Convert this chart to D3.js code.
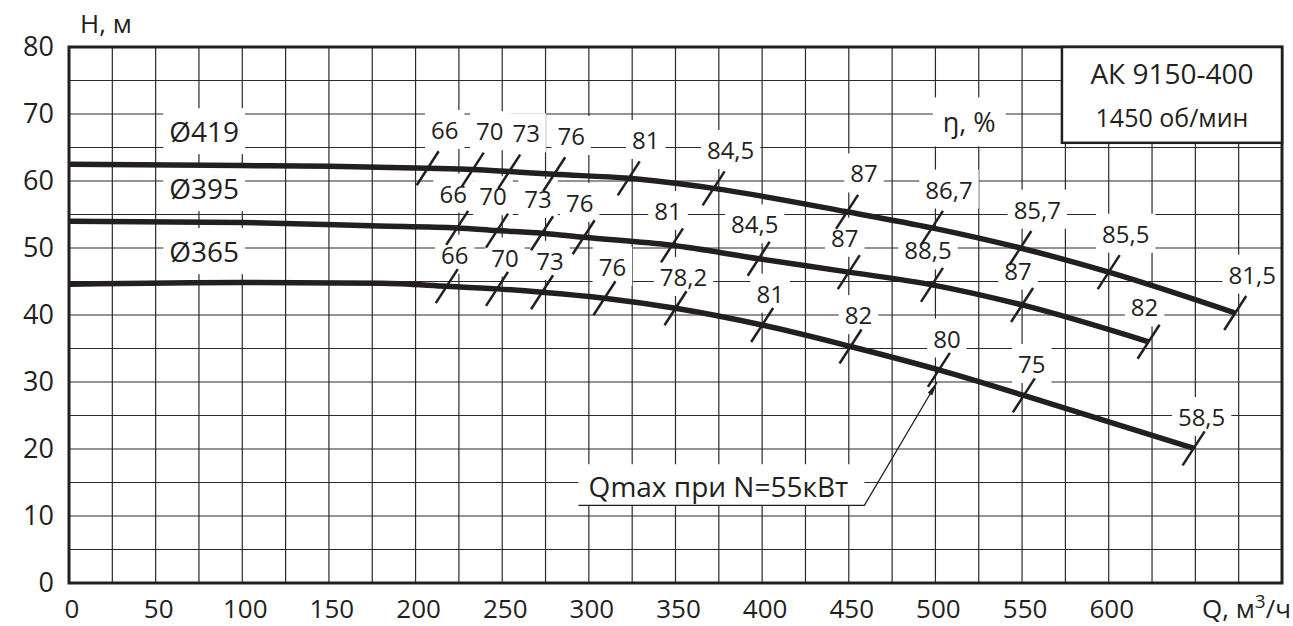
<!DOCTYPE html>
<html><head><meta charset="utf-8">
<script src="https://cdn.jsdelivr.net/npm/d3@7"></script>
<style>
html,body{margin:0;padding:0;background:#fff;}
svg{display:block;font-family:"Open Sans","Noto Sans",sans-serif;}
</style></head>
<body>
<svg id="chart" width="1293" height="626"></svg>
<script>
// ---- data ----
const xTicks = [0,50,100,150,200,250,300,350,400,450,500,550,600];
const yTicks = [0,10,20,30,40,50,60,70,80];
const curveNames = ["Ø419","Ø395","Ø365"];
// leading points of each head curve (Q, H)
const head419 = [[0,62.5],[100,62.3],[150,62.2]];
const head395 = [[0,54.0],[100,53.8],[179,53.3]];
const head365 = [[0,44.6],[100,44.85],[180,44.75]];
// efficiency marks on each curve: Q, H, η label
const marks419 = [[207,61.9,"66"],[233,61.7,"70"],[254,61.4,"73"],[280,61.0,"76"],[323,60.4,"81"],[372,58.9,"84,5"],[449,55.4,"87"],[498,53.0,"86,7"],[549,50.0,"85,7"],[600,46.4,"85,5"],[673,40.3,"81,5"]];
const marks395 = [[224,53.0,"66"],[247,52.6,"70"],[273,52.2,"73"],[297,51.6,"76"],[348,50.4,"81"],[398,48.4,"84,5"],[450,46.4,"87"],[498,44.5,"88,5"],[550,41.5,"87"],[623,36.0,"82"]];
const marks365 = [[218,44.3,"66"],[247,43.9,"70"],[273,43.4,"73"],[309,42.5,"76"],[350,41.0,"78,2"],[400,38.5,"81"],[451,35.3,"82"],[502,31.8,"80"],[551,28.0,"75"],[649,20.1,"58,5"]];
const boxLines = ["АК 9150-400","1450 об/мин"];
const qmaxText = "Qmax при N=55кВт";
const qmaxTarget = [501,30.0];

// ---- layout ----
const svg = d3.select("#chart");
const x = d3.scaleLinear().domain([0,700]).range([69,1282]);
const y = d3.scaleLinear().domain([0,80]).range([583,47]);
const ink = "#231f20";

const gGrid = svg.append("g");
const gBg = svg.append("g");
const gLines = svg.append("g");
const gText = svg.append("g");

// grid
gGrid.selectAll("line.v").data(d3.range(25,700,25)).join("line")
  .attr("x1",d=>x(d)).attr("x2",d=>x(d)).attr("y1",y(0)).attr("y2",y(80))
  .attr("stroke","#2a2a2a").attr("stroke-width",1.2);
gGrid.selectAll("line.h").data(d3.range(5,80,5)).join("line")
  .attr("y1",d=>y(d)).attr("y2",d=>y(d)).attr("x1",x(0)).attr("x2",x(700))
  .attr("stroke","#2a2a2a").attr("stroke-width",1.2);

// axis labels
gText.selectAll("text.xt").data(xTicks).join("text")
  .attr("x",d=>x(d)+3).attr("y",618).attr("text-anchor","middle")
  .attr("font-size",26).attr("fill",ink).text(d=>d);
gText.selectAll("text.yt").data(yTicks).join("text")
  .attr("x",54).attr("y",d=>y(d)+9).attr("text-anchor","end")
  .attr("font-size",27).attr("fill",ink).text(d=>d);
gText.append("text").attr("x",80).attr("y",33).attr("font-size",26).attr("fill",ink).text("H, м");
const ql = gText.append("text").attr("x",1291).attr("y",618).attr("text-anchor","end")
  .attr("font-size",26).attr("fill",ink);
ql.append("tspan").text("Q, м");
ql.append("tspan").attr("dy",-10).attr("font-size",19).text("3");
ql.append("tspan").attr("dy",10).text("/ч");

function labelWithBg(px, py, txt, size, padX, padY){
  const t = gText.append("text").attr("x",px).attr("y",py+size*0.36)
    .attr("text-anchor","middle").attr("font-size",size).attr("fill",ink).text(txt);
  const bb = t.node().getBBox();
  gBg.append("rect").attr("x",bb.x-padX).attr("y",bb.y-padY)
    .attr("width",bb.width+2*padX).attr("height",bb.height+2*padY).attr("fill","#fff");
  return t;
}

// curves
const line = d3.line().x(d=>x(d[0])).y(d=>y(d[1])).curve(d3.curveMonotoneX);
const series = [
  {name:curveNames[0], head:head419, marks:marks419, ldx:6, ldy:-21},
  {name:curveNames[1], head:head395, marks:marks395, ldx:-15, ldy:-17},
  {name:curveNames[2], head:head365, marks:marks365, ldx:-3, ldy:-14}
];
series.forEach(s=>{
  const pts = s.head.concat(s.marks.map(m=>[m[0],m[1]]));
  gLines.append("path").attr("d",line(pts)).attr("fill","none")
    .attr("stroke",ink).attr("stroke-width",5.5);
  s.marks.forEach(m=>{
    const px=x(m[0]), py=y(m[1]);
    gLines.append("line").attr("x1",px-11).attr("y1",py+17).attr("x2",px+11).attr("y2",py-17)
      .attr("stroke",ink).attr("stroke-width",2.5);
    labelWithBg(px+11+s.ldx, py-17+s.ldy, m[2], 24, 6, 3);
  });
  labelWithBg(x(78), y(s.head[0][1]+4.8), s.name, 28, 6, 4);
});

// η label
labelWithBg(x(519.5), y(68.7), "ŋ, %", 27, 10, 6);

// frame
svg.append("rect").attr("x",x(0)).attr("y",y(80)).attr("width",x(700)-x(0)).attr("height",y(0)-y(80))
  .attr("fill","none").attr("stroke",ink).attr("stroke-width",3);

// info box
const bx0 = x(573), by1 = y(65.7);
svg.append("rect").attr("x",bx0).attr("y",y(80)).attr("width",x(700)-bx0).attr("height",by1-y(80))
  .attr("fill","#fff").attr("stroke",ink).attr("stroke-width",2.5);
svg.append("text").attr("x",(bx0+x(700))/2).attr("y",84).attr("text-anchor","middle")
  .attr("font-size",28).attr("fill",ink).text(boxLines[0]);
svg.append("text").attr("x",(bx0+x(700))/2).attr("y",127).attr("text-anchor","middle")
  .attr("font-size",25).attr("fill",ink).text(boxLines[1]);

// Qmax annotation
const ux1 = x(294), ux2 = x(459), uy = y(11.6);
const qt = gText.append("text").attr("x",(ux1+ux2)/2-3).attr("y",uy-8).attr("text-anchor","middle")
  .attr("font-size",28).attr("fill",ink).text(qmaxText);
const qbb = qt.node().getBBox();
gBg.append("rect").attr("x",ux1).attr("y",qbb.y-3).attr("width",ux2-ux1).attr("height",uy-qbb.y+3).attr("fill","#fff");
const tx = x(qmaxTarget[0]), ty = y(qmaxTarget[1]);
svg.append("path").attr("d",`M${ux1},${uy}L${ux2},${uy}L${tx},${ty}`)
  .attr("fill","none").attr("stroke",ink).attr("stroke-width",1.3);
const ang = Math.atan2(ty-uy, tx-ux2);
const hl = 14, hw = 2.6;
const bxp = tx - hl*Math.cos(ang), byp = ty - hl*Math.sin(ang);
svg.append("path").attr("d",`M${tx},${ty}L${bxp+hw*Math.sin(ang)},${byp-hw*Math.cos(ang)}L${bxp-hw*Math.sin(ang)},${byp+hw*Math.cos(ang)}Z`)
  .attr("fill",ink);
</script>
</body></html>
